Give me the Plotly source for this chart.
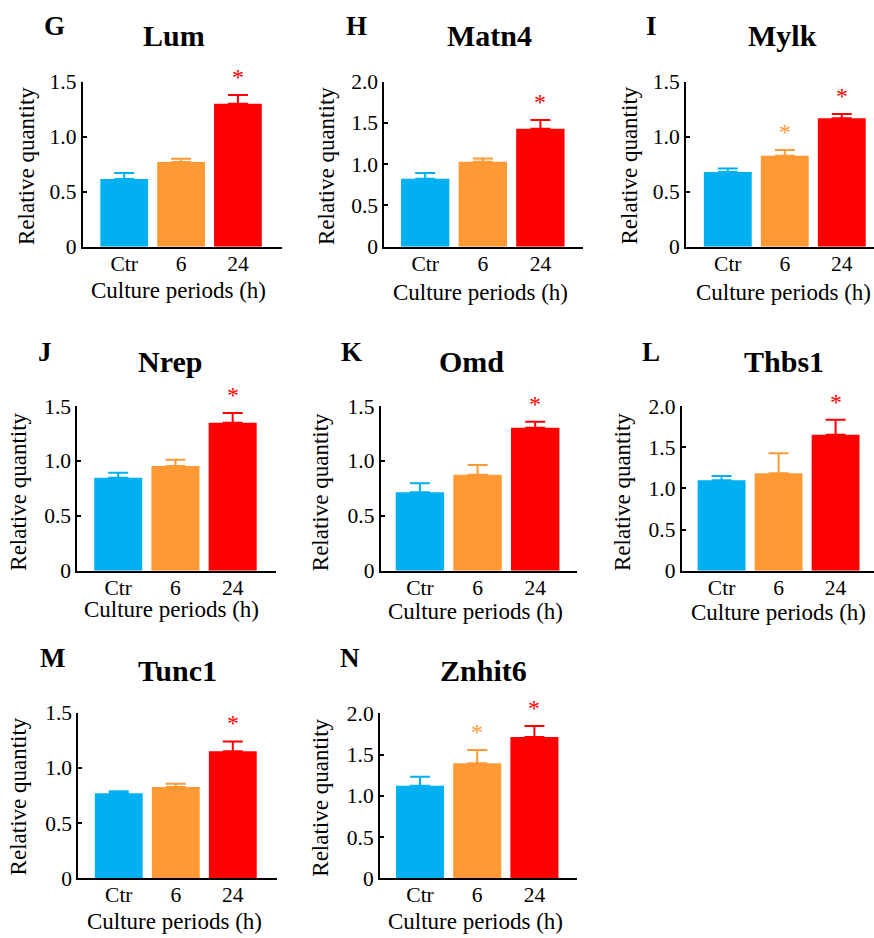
import plotly.graph_objects as go

# ---------------- data ----------------
categories = ["Ctr", "6", "24"]
genes = ["Lum", "Matn4", "Mylk", "Nrep", "Omd", "Thbs1", "Tunc1", "Znhit6"]
letters = ["G", "H", "I", "J", "K", "L", "M", "N"]

lum_mean = [0.615, 0.77, 1.30]
lum_err = [0.055, 0.03, 0.08]
matn4_mean = [0.824, 1.03, 1.43]
matn4_err = [0.07, 0.04, 0.105]
mylk_mean = [0.68, 0.827, 1.167]
mylk_err = [0.03, 0.053, 0.04]
nrep_mean = [0.847, 0.953, 1.348]
nrep_err = [0.046, 0.058, 0.088]
omd_mean = [0.714, 0.874, 1.303]
omd_err = [0.082, 0.089, 0.054]
thbs1_mean = [1.097, 1.182, 1.652]
thbs1_err = [0.053, 0.243, 0.182]
tunc1_mean = [0.770, 0.827, 1.150]
tunc1_err = [0.018, 0.030, 0.090]
znhit6_mean = [1.123, 1.394, 1.713]
znhit6_err = [0.109, 0.162, 0.133]

means = [lum_mean, matn4_mean, mylk_mean, nrep_mean, omd_mean, thbs1_mean, tunc1_mean, znhit6_mean]
errs = [lum_err, matn4_err, mylk_err, nrep_err, omd_err, thbs1_err, tunc1_err, znhit6_err]
significant = [[0, 0, 1], [0, 0, 1], [0, 1, 1], [0, 0, 1], [0, 0, 1], [0, 0, 1], [0, 0, 1], [0, 1, 1]]
y_max = [1.5, 2.0, 1.5, 1.5, 1.5, 2.0, 1.5, 2.0]
tick_vals_15 = [0, 0.5, 1.0, 1.5]
tick_text_15 = ["0", "0.5", "1.0", "1.5"]
tick_vals_20 = [0, 0.5, 1.0, 1.5, 2.0]
tick_text_20 = ["0", "0.5", "1.0", "1.5", "2.0"]

# ---------------- layout / style ----------------
W, H = 874, 938
colors = ["#00B0F0", "#FF9933", "#FF0000"]
FONT = "Liberation Serif, Times New Roman, serif"

# pixel boxes of the plot areas: (x0, x1, ytop, ybottom)
boxes = [
    (82.7, 281.7, 81.7, 246.7),
    (384.3, 583.0, 81.7, 246.7),
    (686.0, 874.0, 81.7, 246.7),
    (77.3, 276.0, 406.0, 570.7),
    (380.7, 577.3, 406.0, 570.7),
    (681.7, 874.0, 406.0, 570.7),
    (78.3, 276.7, 712.7, 878.3),
    (380.0, 577.3, 713.3, 878.3),
]
x_ranges = [
    [-0.73, 2.77], [-0.71, 2.74], [-0.733, 2.565],
    [-0.715, 2.757], [-0.68, 2.73], [-0.70, 2.674],
    [-0.71, 2.77], [-0.70, 2.75],
]
letter_pos = [(54, 26), (356.7, 26), (651.7, 26), (45, 351.7), (351.7, 351.7),
              (650.8, 352.5), (52.5, 657.5), (350, 658.3)]
title_pos = [(174.2, 36), (489.2, 36), (782.5, 36), (170, 361.7), (471.7, 361),
             (783.7, 361.7), (177.5, 670), (483.3, 670.8)]
ytitle_pos = [(26, 166), (326, 166), (628.5, 166), (17.7, 492), (320.2, 492),
              (622, 492), (18.7, 796.7), (320.2, 797.5)]
xtitle_pos = [(178.3, 290.5), (480.8, 292.5), (783.3, 292), (171.7, 609.2), (475, 611),
              (778.3, 612), (174.2, 921), (475.8, 921)]


def px(x):
    return x / W


def py(y):
    return 1 - y / H


fig = go.Figure()
annotations = []
layout = dict(
    template="none",
    width=W, height=H, autosize=False,
    margin=dict(l=0, r=0, t=0, b=0, pad=0, autoexpand=False),
    paper_bgcolor="white", plot_bgcolor="white",
    showlegend=False, barmode="overlay",
    font=dict(family=FONT, color="black"),
)

for i in range(len(genes)):
    sfx = "" if i == 0 else str(i + 1)
    xa, ya = "x" + sfx, "y" + sfx
    x0, x1, yt, yb = boxes[i]
    for j, cat in enumerate(categories):
        fig.add_trace(go.Bar(
            x=[j], y=[means[i][j]], width=0.84,
            marker=dict(color=colors[j], line=dict(width=0)),
            error_y=dict(type="data", symmetric=False, array=[errs[i][j]], arrayminus=[0],
                         color=colors[j], thickness=2, width=10),
            xaxis=xa, yaxis=ya, hoverinfo="skip",
        ))
        if significant[i][j]:
            annotations.append(dict(
                x=j, y=means[i][j] + errs[i][j], xref=xa, yref=ya,
                text="*", showarrow=False, yanchor="middle", yshift=18,
                font=dict(family=FONT, size=24, color=colors[j]),
            ))
    if y_max[i] == 2.0:
        tv, tt = tick_vals_20, tick_text_20
    else:
        tv, tt = tick_vals_15, tick_text_15
    layout["xaxis" + sfx] = dict(
        domain=[px(x0), px(x1)], anchor=ya, type="linear", automargin=False,
        tickvals=list(range(len(categories))), ticktext=categories,
        range=x_ranges[i], showline=True, linecolor="black", linewidth=2,
        ticks="", ticklabelstandoff=-4,
        showgrid=False, zeroline=False,
        tickfont=dict(family=FONT, size=21.5, color="black"),
    )
    layout["yaxis" + sfx] = dict(
        domain=[py(yb), py(yt)], anchor=xa, range=[0, y_max[i]], automargin=False,
        tickvals=tv, ticktext=tt, showline=True, linecolor="black", linewidth=2,
        ticks="inside", ticklen=4, tickwidth=2, tickcolor="black",
        showgrid=False, zeroline=False,
        tickfont=dict(family=FONT, size=21.5, color="black"),
    )
    lx, ly = letter_pos[i]
    annotations.append(dict(x=px(lx), y=py(ly), xref="paper", yref="paper",
                            text="<b>" + letters[i] + "</b>", showarrow=False,
                            xanchor="center", yanchor="middle",
                            font=dict(family=FONT, size=27, color="black")))
    tx, ty = title_pos[i]
    annotations.append(dict(x=px(tx), y=py(ty), xref="paper", yref="paper",
                            text="<b>" + genes[i] + "</b>", showarrow=False,
                            xanchor="center", yanchor="middle",
                            font=dict(family=FONT, size=30, color="black")))
    yx, yy = ytitle_pos[i]
    annotations.append(dict(x=px(yx), y=py(yy), xref="paper", yref="paper",
                            text="Relative quantity", showarrow=False, textangle=-90,
                            xanchor="center", yanchor="middle",
                            font=dict(family=FONT, size=23, color="black")))
    xx, xy = xtitle_pos[i]
    annotations.append(dict(x=px(xx), y=py(xy), xref="paper", yref="paper",
                            text="Culture periods (h)", showarrow=False,
                            xanchor="center", yanchor="middle",
                            font=dict(family=FONT, size=23, color="black")))

layout["annotations"] = annotations
fig.update_layout(**layout)
fig.write_html(
    "out.html",
    config={"displayModeBar": False, "staticPlot": True},
    post_script="document.body.style.margin='0';document.body.style.overflow='hidden';",
)
